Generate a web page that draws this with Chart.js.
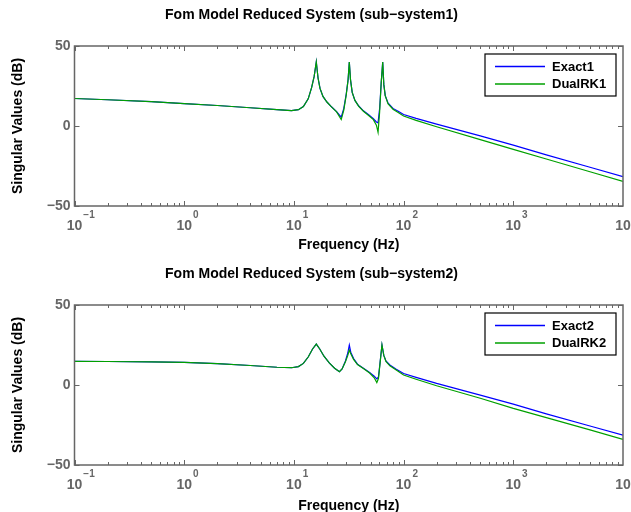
<!DOCTYPE html>
<html>
<head>
<meta charset="utf-8">
<script src="https://cdn.jsdelivr.net/npm/chart.js@4.4.1/dist/chart.umd.min.js"></script>
<style>
  html, body { margin: 0; padding: 0; background: #fff; }
  .plot { position: absolute; left: 0; width: 631px; height: 256px; }
</style>
</head>
<body>
<div class="plot" style="top:0"><canvas id="c1" width="631" height="256"></canvas></div>
<div class="plot" style="top:256px"><canvas id="c2" width="631" height="256"></canvas></div>
<script>
// sous-systeme 1
const freq1 = [0.1, 0.2, 0.5, 1, 2, 4, 7, 9.5, 11, 12.2, 13.5, 14.5, 15.3, 16, 16.6, 17.3, 18.4, 20, 22, 24.5,
  27, 28.5, 30, 31.2, 32, 32.8, 34, 36, 39, 43, 48, 53, 56.5, 58.5, 60.5, 62.5, 64.5, 66, 68, 72,
  80, 90, 100, 130, 200, 500, 1000, 2000, 5000, 10000];
const exact1 = [17.2, 16.4, 15.2, 14.0, 12.8, 11.4, 10.2, 9.6, 10.2, 12.2, 17, 24, 31, 40, 30, 23.5, 18.5, 15, 12, 9,
  5.5, 11, 20, 29, 40, 29, 21, 16, 12.5, 9.5, 7, 4.5, 2.5, 2, 11, 27, 40, 26, 19, 14.5,
  11, 9, 7.2, 4.8, 1.2, -6.2, -12, -18, -25.8, -31.6];
const dualRK1 = [17.2, 16.4, 15.2, 14.0, 12.8, 11.4, 10.2, 9.6, 10.2, 12.2, 17, 24, 31, 40, 30, 23.5, 18.5, 15, 12, 8.8,
  4, 10, 19.5, 29, 40, 29, 21, 16, 12.3, 9.2, 6.6, 4, 0.5, -4, 9, 27, 40, 26, 19, 14,
  10.5, 8.3, 6.2, 3.5, -0.5, -8.5, -14.6, -20.6, -28.6, -34.6];

// sous-systeme 2
const freq2 = [0.1, 0.2, 0.5, 1, 2, 4, 7, 9.5, 11, 12.2, 13.5, 14.8, 16, 17.2, 18.8, 21, 23.5, 26, 27.5, 29.5,
  31, 32, 33, 35, 38, 43, 49, 54, 57, 59, 61, 63.5, 66, 69, 75, 85, 100, 130, 200, 500,
  1000, 2000, 5000, 10000];
const exact2 = [14.8, 14.7, 14.5, 14.1, 13.3, 12.2, 11.1, 10.8, 11.5, 13.5, 17.5, 22.5, 25.6, 22.5, 18, 13.8, 10.5, 8.3, 10, 15,
  20, 25, 20.5, 16.5, 13, 10.5, 7.8, 5.5, 3.8, 5, 14, 25, 18.5, 15, 12.5, 10, 7.2, 4.8, 1.0, -6.3,
  -12, -18, -25.6, -31.3];
const dualRK2 = [14.8, 14.7, 14.5, 14.1, 13.3, 12.2, 11.1, 10.8, 11.5, 13.5, 17.5, 22.5, 25.6, 22.5, 18, 13.8, 10.5, 8.3, 10, 14.5,
  18.5, 21.8, 19.5, 16, 12.8, 10.3, 7.5, 4.5, 1.5, 4, 13.5, 25, 18.5, 14.8, 12, 9.5, 6.2, 3.6, -0.5, -8.3,
  -14.6, -20.4, -28, -34];

// axes
const xTickValues = [0.1, 1, 10, 100, 1000, 10000];
const xTickExponents = ['\u22121', '0', '1', '2', '3', '4'];
const yTicks = [-50, 0, 50];

Chart.defaults.font.family = '"Liberation Sans", Arial, sans-serif';

function pts(f, v) {
  return f.map((x, i) => ({ x: x, y: v[i] }));
}

// cadre, graduations, etiquettes 10^n et legende a la MATLAB
const matlabAxes = {
  id: 'matlabAxes',
  afterDatasetsDraw(chart) {
    const ctx = chart.ctx;
    const a = chart.chartArea;
    const x = chart.scales.x, y = chart.scales.y;
    ctx.save();
    ctx.strokeStyle = '#666';
    ctx.lineWidth = 1.5;
    ctx.strokeRect(a.left, a.top, a.right - a.left, a.bottom - a.top);

    ctx.lineWidth = 1;
    ctx.beginPath();
    for (let e = -1; e < 4; e++) {
      for (let m = 1; m < 10; m++) {
        const px = Math.round(x.getPixelForValue(m * Math.pow(10, e))) + 0.5;
        const len = m === 1 ? 5 : 3;
        ctx.moveTo(px, a.bottom); ctx.lineTo(px, a.bottom - len);
        ctx.moveTo(px, a.top); ctx.lineTo(px, a.top + len);
      }
    }
    yTicks.forEach(v => {
      const py = Math.round(y.getPixelForValue(v)) + 0.5;
      ctx.moveTo(a.left, py); ctx.lineTo(a.left + 5, py);
      ctx.moveTo(a.right, py); ctx.lineTo(a.right - 5, py);
    });
    ctx.stroke();

    // etiquettes de l'axe x
    ctx.fillStyle = '#666';
    ctx.textBaseline = 'alphabetic';
    xTickValues.forEach((v, i) => {
      const px = x.getPixelForValue(v);
      ctx.font = 'bold 14px "Liberation Sans", Arial, sans-serif';
      ctx.textAlign = 'center';
      ctx.fillText('10', px, a.bottom + 24);
      const w = ctx.measureText('10').width;
      ctx.font = 'bold 10px "Liberation Sans", Arial, sans-serif';
      ctx.textAlign = 'left';
      ctx.fillText(xTickExponents[i], px + w / 2 + 1, a.bottom + 12);
    });

    // legende encadree
    const bx = a.right - 138, by = a.top + 8, bw = 131, bh = 42;
    ctx.fillStyle = '#fff';
    ctx.fillRect(bx, by, bw, bh);
    ctx.strokeStyle = '#000';
    ctx.lineWidth = 1.2;
    ctx.strokeRect(bx, by, bw, bh);
    chart.data.datasets.forEach((ds, i) => {
      const ry = by + 12.5 + i * 17.5;
      ctx.strokeStyle = ds.borderColor;
      ctx.lineWidth = 1.3;
      ctx.beginPath();
      ctx.moveTo(bx + 10, ry); ctx.lineTo(bx + 60, ry);
      ctx.stroke();
      ctx.fillStyle = '#000';
      ctx.font = 'bold 13px "Liberation Sans", Arial, sans-serif';
      ctx.textAlign = 'left';
      ctx.textBaseline = 'middle';
      ctx.fillText(ds.label, bx + 67, ry + 0.5);
    });
    ctx.restore();
  }
};

function makeChart(id, title, f, exact, dual, names, t) {
  new Chart(document.getElementById(id), {
    type: 'line',
    data: {
      datasets: [
        { label: names[0], data: pts(f, exact), borderColor: '#0000ff', borderWidth: 1.2, pointRadius: 0, tension: 0, order: 1 },
        { label: names[1], data: pts(f, dual), borderColor: '#00a000', borderWidth: 1.2, pointRadius: 0, tension: 0, order: 0 }
      ]
    },
    options: {
      responsive: false,
      animation: false,
      devicePixelRatio: 1,
      layout: { padding: { left: 0, right: 8, top: 0, bottom: 0 } },
      plugins: {
        legend: { display: false },
        tooltip: { enabled: false },
        title: {
          display: true,
          text: title,
          color: '#000',
          font: { size: 14, weight: 'bold', lineHeight: 1.2 },
          padding: { top: t.titleTop, bottom: t.titleBottom }
        }
      },
      scales: {
        x: {
          type: 'logarithmic',
          min: 0.1,
          max: 10000,
          grid: { display: false, drawTicks: false },
          border: { display: false },
          ticks: { display: false },
          title: {
            display: true,
            text: 'Frequency (Hz)',
            color: '#000',
            font: { size: 14, weight: 'bold', lineHeight: 1 },
            padding: { top: 0, bottom: t.xlabBottom }
          },
          afterFit: s => { s.height = t.xHeight; }
        },
        y: {
          min: -50,
          max: 50,
          afterBuildTicks: s => { s.ticks = yTicks.map(v => ({ value: v })); },
          grid: { display: false, drawTicks: false },
          border: { display: false },
          ticks: {
            color: '#666',
            padding: 4,
            font: { size: 14, weight: 'bold' },
            callback: v => (v < 0 ? '\u2212' + Math.abs(v) : String(v))
          },
          title: {
            display: true,
            text: 'Singular Values (dB)',
            color: '#000',
            font: { size: 14, weight: 'bold', lineHeight: 1 },
            padding: { top: 11, bottom: 0 }
          },
          afterFit: s => { s.width = 74.5; }
        }
      }
    },
    plugins: [matlabAxes]
  });
}

makeChart('c1', 'Fom Model Reduced System (sub\u2212system1)', freq1, exact1, dualRK1, ['Exact1', 'DualRK1'],
  { titleTop: 6.6, titleBottom: 22.6, xHeight: 50, xlabBottom: 4 });
makeChart('c2', 'Fom Model Reduced System (sub\u2212system2)', freq2, exact2, dualRK2, ['Exact2', 'DualRK2'],
  { titleTop: 9.6, titleBottom: 22.6, xHeight: 47, xlabBottom: -1 });
</script>
</body>
</html>
